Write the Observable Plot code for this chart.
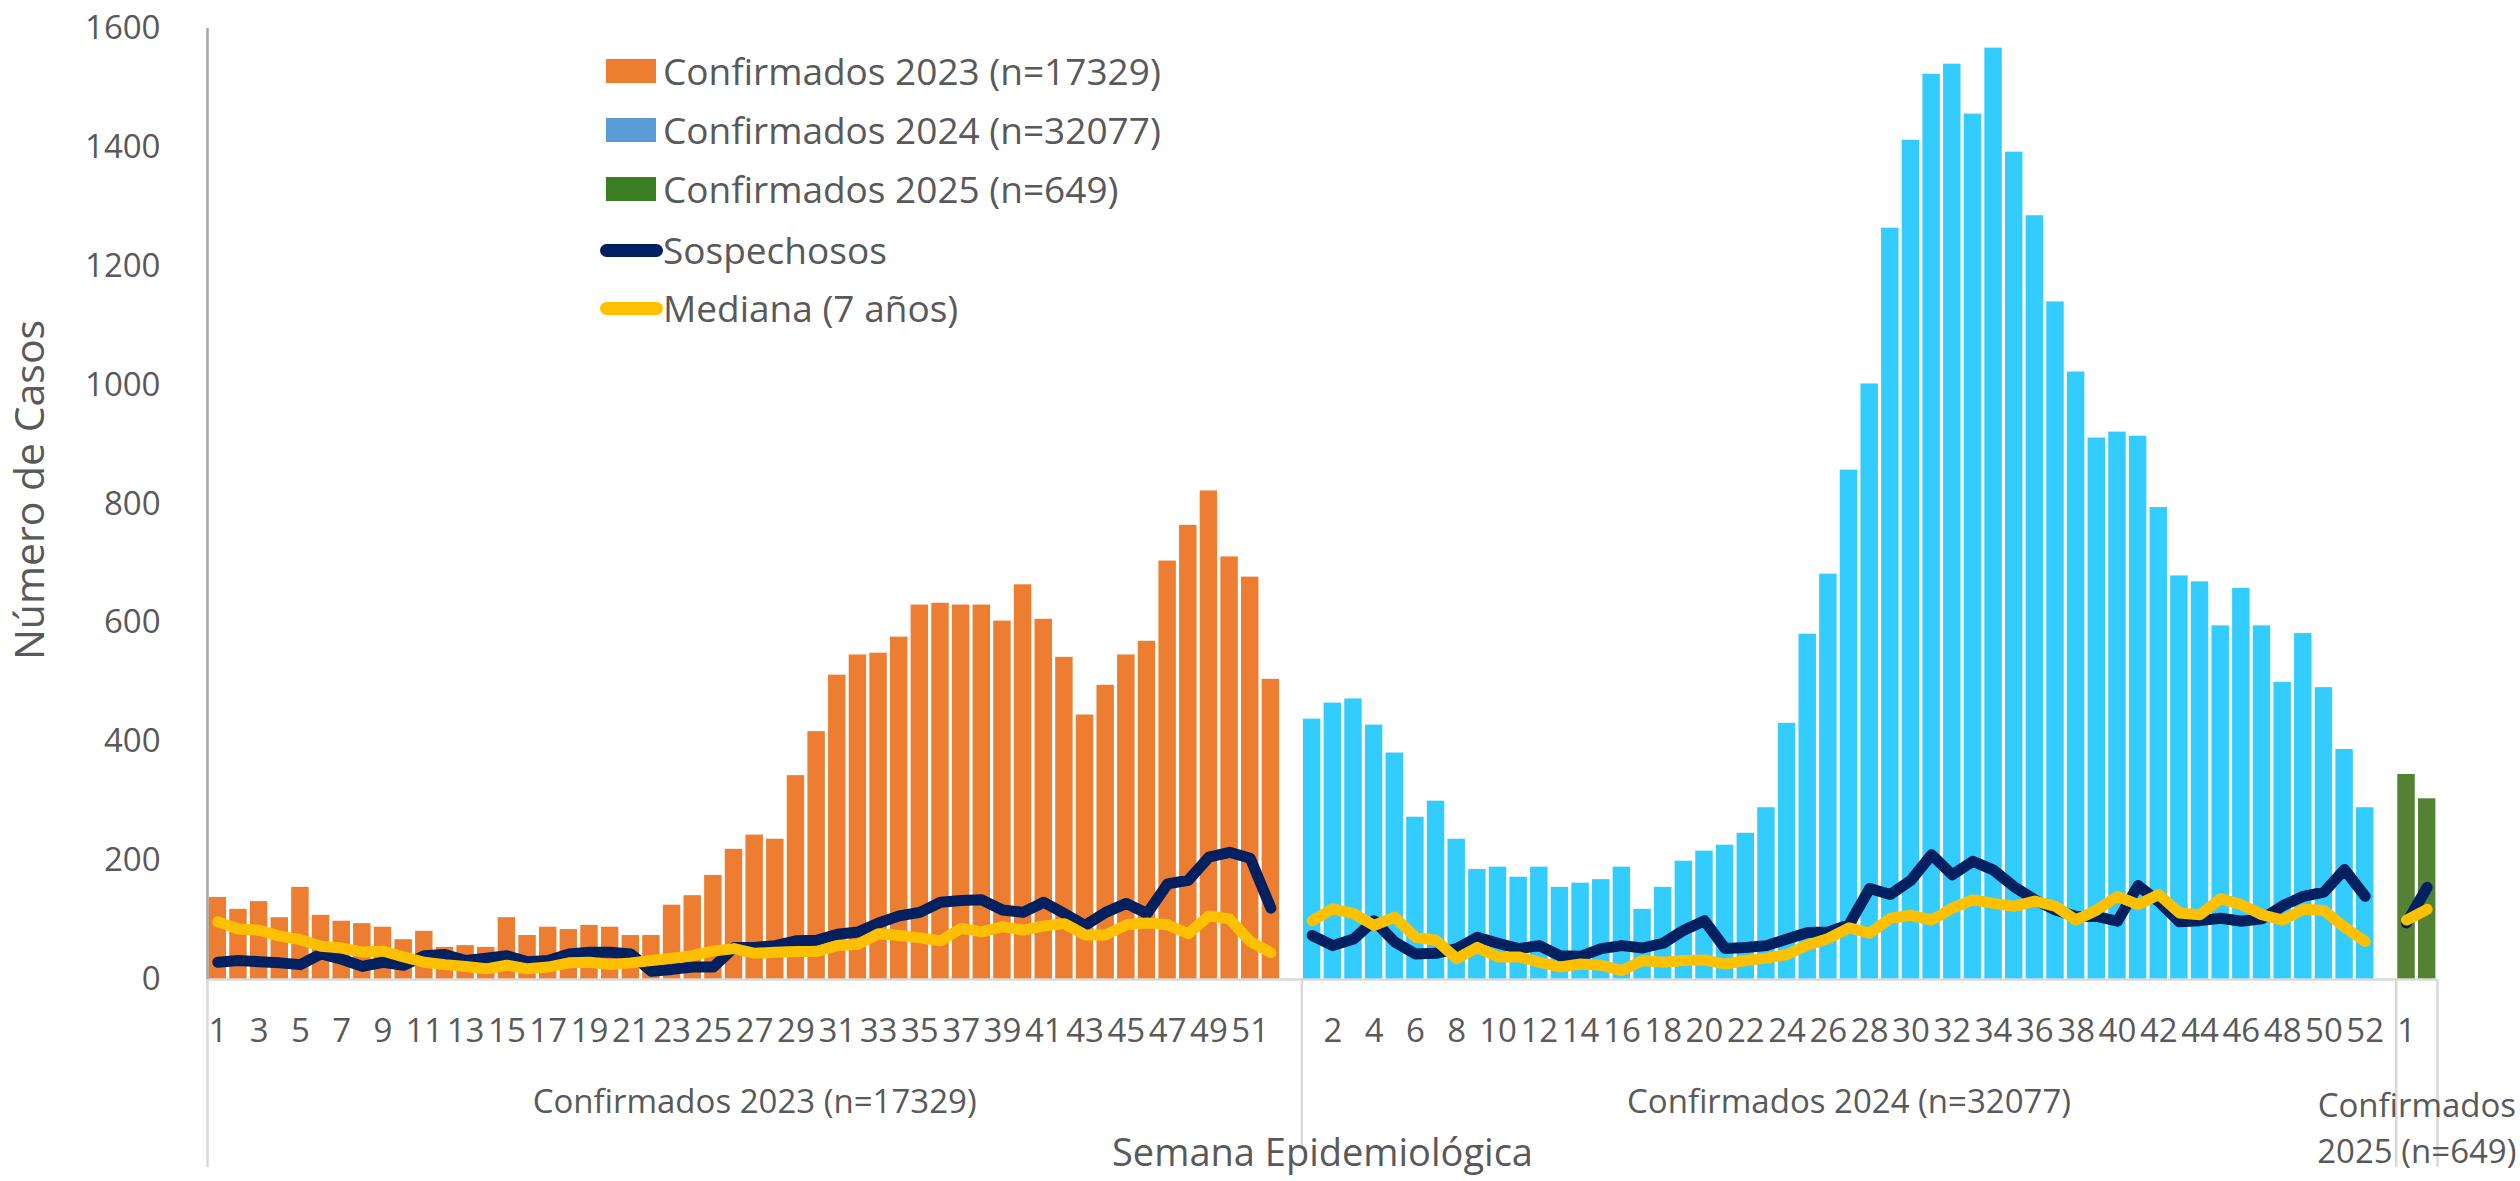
<!DOCTYPE html>
<html>
<head>
<meta charset="utf-8">
<script src="https://cdn.jsdelivr.net/npm/d3@7"></script>
<script src="https://cdn.jsdelivr.net/npm/@observablehq/plot@0.6"></script>
<style>
  html, body { margin: 0; padding: 0; background: #fff; }
  #wrap { position: relative; width: 2520px; height: 1181px; overflow: hidden; font-family: 'Open Sans', sans-serif; color: #595959; }
  .lg { position: absolute; left: 0; height: 60px; line-height: 60px; font-size: 37px; white-space: nowrap; }
  .sw { position: absolute; }
  .lt { position: absolute; left: 663px; }
  #ytitle { position: absolute; left: 28px; top: 490px; font-size: 41px; line-height: 1; white-space: nowrap; transform: translate(-50%, -50%) rotate(-90deg); }
</style>
</head>
<body>
<div id="wrap"></div>
<script>
// ---- Data ----
const years = ["2023", "2024", "2025"];
const groupLabels = ["Confirmados 2023 (n=17329)", "Confirmados 2024 (n=32077)", "Confirmados 2025 (n=649)"];
const barColors = ["#ED7D31", "#33CCFF", "#548235"];

const conf2023 = [138,118,131,104,155,108,98,94,88,67,81,54,57,54,104,74,88,84,91,88,74,74,125,141,175,219,243,236,343,417,512,546,549,576,630,633,630,630,603,664,606,542,445,495,546,569,704,764,822,711,677,505];
const conf2024 = [438,465,472,428,381,273,300,236,185,189,172,189,155,162,168,189,118,155,199,216,226,246,289,431,581,682,857,1002,1264,1412,1523,1540,1456,1567,1392,1285,1140,1022,911,921,914,794,679,669,595,658,595,500,582,491,387,289];
const conf2025 = [345,304];

const sosp2023 = [29,32,30,28,25,43,34,22,29,24,40,42,32,36,40,30,32,43,46,46,43,14,17,21,21,54,54,57,65,66,76,80,95,107,113,130,133,134,117,113,130,111,91,113,128,111,161,167,206,214,204,120];
const sosp2024 = [74,57,68,99,63,43,44,52,71,61,52,57,40,39,52,57,53,61,83,99,52,54,57,68,79,80,92,153,143,167,210,176,199,184,156,134,117,106,106,98,158,131,97,99,103,98,102,124,140,147,185,140];
const sosp2025 = [95,155];

const med2023 = [97,85,83,73,67,56,53,46,48,38,29,25,22,18,24,18,21,28,29,25,28,32,36,40,48,52,44,46,47,47,57,59,77,74,70,65,86,80,89,83,90,94,75,75,92,95,92,77,107,102,64,45];
const med2024 = [99,119,111,91,105,71,66,35,54,38,38,29,21,26,24,15,32,29,32,33,26,32,36,42,58,69,87,78,103,108,100,120,134,128,123,132,123,100,117,140,126,143,112,109,136,126,109,100,118,116,88,64];
const med2025 = [100,118];

const yTicks = [0,200,400,600,800,1000,1200,1400,1600];
const yTitle = "Número de Casos";
const xTitle = "Semana Epidemiológica";

const legendItems = [
  {label: "Confirmados 2023 (n=17329)", kind: "rect", color: "#ED7D31"},
  {label: "Confirmados 2024 (n=32077)", kind: "rect", color: "#5B9BD5"},
  {label: "Confirmados 2025 (n=649)", kind: "rect", color: "#3B7D23"},
  {label: "Sospechosos", kind: "line", color: "#002060"},
  {label: "Mediana (7 años)", kind: "line", color: "#FFC000"}
];

// ---- Build table: each year is a group of category slots (one blank slot after 2023 and 2024) ----
const series = [
  {year: "2023", conf: conf2023, sosp: sosp2023, med: med2023},
  {year: "2024", conf: conf2024, sosp: sosp2024, med: med2024},
  {year: "2025", conf: conf2025, sosp: sosp2025, med: med2025}
];
const rows = [];
const groups = [];
let offset = 0;
series.forEach((s, gi) => {
  const size = s.year === "2025" ? s.conf.length : s.conf.length + 1;
  groups.push({year: s.year, start: offset, size, label: groupLabels[gi]});
  s.conf.forEach((v, i) => rows.push({year: s.year, week: i + 1, slot: offset + i, conf: v, sosp: s.sosp[i], med: s.med[i]}));
  offset += size;
});
const slotCount = offset;

// Category labels shown every other slot (as in the original axis)
const tickRows = rows.filter(d => d.slot % 2 === 0);
const tickLabel = new Map(tickRows.map(d => [d.slot + 0.5, String(d.week)]));

const bounds = [0, ...groups.map(g => g.start + g.size)];

const chart = Plot.plot({
  width: 2520,
  height: 1181,
  marginLeft: 207,
  marginRight: 83,
  marginTop: 28,
  marginBottom: 202,
  x: {domain: [0, slotCount], axis: null},
  y: {domain: [0, 1600], axis: null},
  color: {domain: years, range: barColors},
  style: {fontFamily: "'Open Sans', sans-serif", color: "#595959", background: "white", overflow: "visible"},
  marks: [
    Plot.rect(rows, {x1: "slot", x2: d => d.slot + 1, y1: 0, y2: "conf", fill: "year", insetLeft: 1.6, insetRight: 1.6}),
    Plot.line(rows, {x: d => d.slot + 0.5, y: "sosp", z: "year", stroke: "#002060", strokeWidth: 11, strokeLinecap: "round", strokeLinejoin: "round"}),
    Plot.line(rows, {x: d => d.slot + 0.5, y: "med", z: "year", stroke: "#FFC000", strokeWidth: 11, strokeLinecap: "round", strokeLinejoin: "round"}),
    Plot.ruleY([0], {stroke: "#D9D9D9", strokeWidth: 2.5}),
    Plot.ruleX([0], {stroke: "#A6A6A6", strokeWidth: 2.5}),
    Plot.ruleX(bounds.filter((b, i) => i !== 1), {stroke: "#D9D9D9", strokeWidth: 2.5, insetTop: 951, insetBottom: -188}),
    Plot.ruleX([bounds[1]], {stroke: "#D9D9D9", strokeWidth: 2.5, insetTop: 951, insetBottom: -168}),
    Plot.axisY(yTicks, {tickSize: 0, tickPadding: 47, fontSize: 33, tickFormat: d => String(d), label: null}),
    Plot.axisX([...tickLabel.keys()], {tickSize: 0, tickPadding: 39, fontSize: 33, tickFormat: d => tickLabel.get(d), label: null}),
    Plot.text(groups.filter(g => g.year !== "2025"), {x: g => g.start + g.size / 2, frameAnchor: "bottom", lineAnchor: "middle", dy: 123, text: "label", fontSize: 33, fill: "#595959"}),
    Plot.text(groups.filter(g => g.year === "2025"), {x: g => g.start + g.size / 2, frameAnchor: "bottom", lineAnchor: "middle", dy: 146, text: g => g.label.replace(" 2025", "\n2025"), lineHeight: 1.39, fontSize: 33, fill: "#595959"}),
    Plot.text([xTitle], {frameAnchor: "bottom", lineAnchor: "middle", dy: 174, fontSize: 38, fill: "#595959"})
  ]
});

const wrap = document.getElementById("wrap");
wrap.appendChild(chart);

// Y axis title
const yt = document.createElement("div");
yt.id = "ytitle";
yt.textContent = yTitle;
wrap.appendChild(yt);

// Legend (overlaid inside the plot area, as in the original)
const rowCenters = [71, 130, 189, 250, 308];
legendItems.forEach((it, i) => {
  const row = document.createElement("div");
  row.className = "lg";
  row.style.top = (rowCenters[i] - 30) + "px";
  row.style.width = "1400px";
  const sw = document.createElement("div");
  sw.className = "sw";
  if (it.kind === "rect") {
    sw.style.left = "606px"; sw.style.width = "50px"; sw.style.top = "18px"; sw.style.height = "24px";
  } else {
    sw.style.left = "600px"; sw.style.width = "63px"; sw.style.top = "23.5px"; sw.style.height = "13px"; sw.style.borderRadius = "7px";
  }
  sw.style.background = it.color;
  const tx = document.createElement("div");
  tx.className = "lt";
  tx.textContent = it.label;
  row.appendChild(sw);
  row.appendChild(tx);
  wrap.appendChild(row);
});
</script>
</body>
</html>
